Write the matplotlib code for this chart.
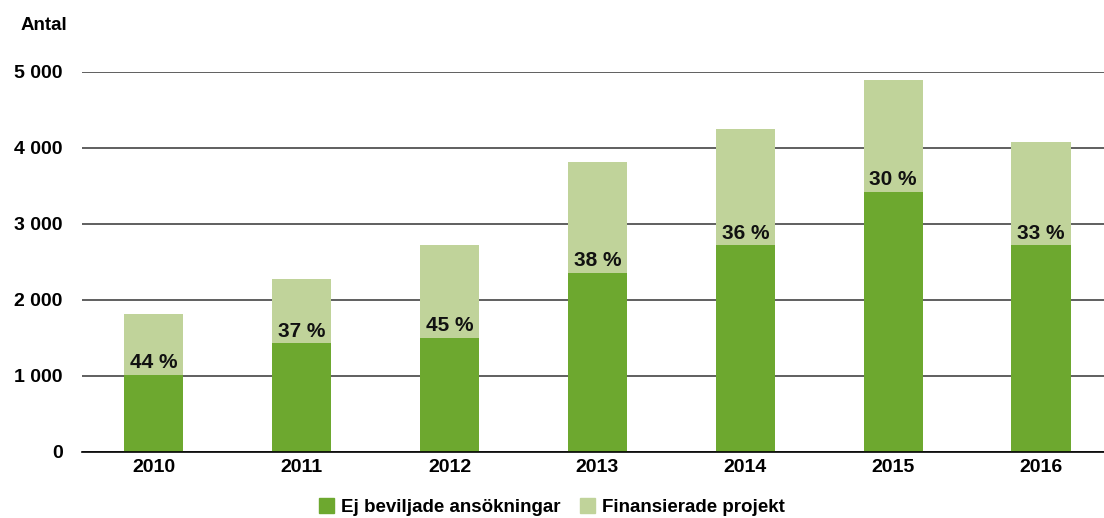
import numpy as np
import matplotlib.pyplot as plt
from matplotlib.patches import Patch

years = ["2010", "2011", "2012", "2013", "2014", "2015", "2016"]
ej_beviljade = [1010, 1430, 1500, 2360, 2720, 3420, 2720]
finansierade = [810, 850, 1230, 1450, 1530, 1470, 1360]
andel = ["44 %", "37 %", "45 %", "38 %", "36 %", "30 %", "33 %"]

dark = "#6da82f"
light = "#c0d39a"
plt.rcParams['font.family'] = ["Liberation Sans", "DejaVu Sans"]

fig = plt.figure(figsize=(11.04, 5.18), dpi=100)
ax = fig.add_axes([82/1104, 66/518, 1 - 82/1104, 380/518])

x = np.arange(len(years))
ax.bar(x, ej_beviljade, width=0.4, color=dark, zorder=2)
ax.bar(x, finansierade, width=0.4, bottom=ej_beviljade, color=light, zorder=2)

for xi, b, lab in zip(x, ej_beviljade, andel):
    ax.annotate(lab, (xi, b), xytext=(0, 2), textcoords="offset points",
                ha="center", va="bottom", fontsize=15, fontweight="bold",
                color="#111111", zorder=3)

ax.set_xlim(-0.486, 6.426)
ax.set_ylim(0, 5000)
ax.set_yticks(range(0, 5001, 1000))
ax.set_yticklabels(["0", "1 000", "2 000", "3 000", "4 000", "5 000"],
                   fontsize=14, fontweight="bold")
ax.set_xticks(x)
ax.set_xticklabels(years, fontsize=14, fontweight="bold")
ax.tick_params(axis="y", length=0, pad=14)
ax.tick_params(axis="x", length=0, pad=5)
ax.yaxis.grid(True, color="#444444", linewidth=1.2, zorder=0)
ax.set_axisbelow(True)
for s in ["top", "right", "left"]:
    ax.spines[s].set_visible(False)
ax.spines["bottom"].set_color("black")
ax.spines["bottom"].set_linewidth(1.2)

fig.text(21/1104, 1 - 25/518, "Antal", fontsize=13.5, fontweight="bold",
         va="center", ha="left")

handles = [Patch(color=dark, label="Ej beviljade ansökningar"),
           Patch(color=light, label="Finansierade projekt")]
fig.legend(handles=handles, loc="center", bbox_to_anchor=(0.5, 1 - 507/518),
           ncol=2, frameon=False, handlelength=0.8, handleheight=0.8,
           handletextpad=0.4, columnspacing=1.0,
           prop={"weight": "bold", "size": 13.5})

fig.savefig("out.png", dpi=100)
